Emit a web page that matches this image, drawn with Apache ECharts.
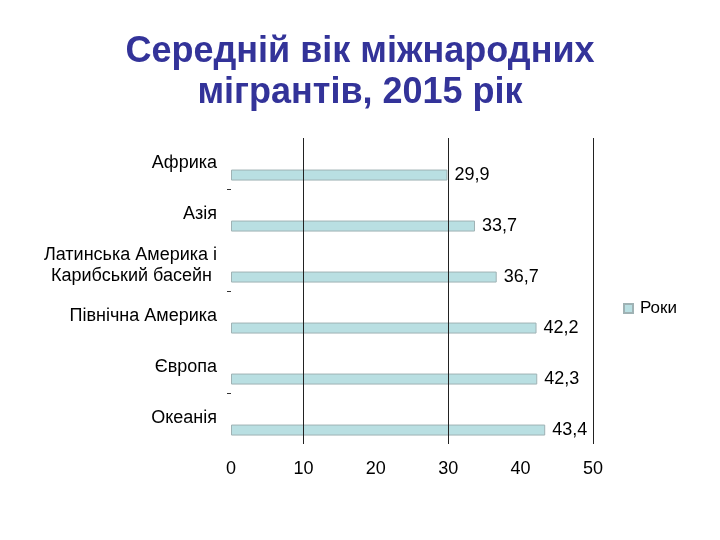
<!DOCTYPE html>
<html>
<head>
<meta charset="utf-8">
<script src="https://cdn.jsdelivr.net/npm/echarts@6/dist/echarts.min.js"></script>
<style>html,body{margin:0;padding:0;background:#fff}#c{width:720px;height:540px}</style>
</head>
<body>
<div id="c"></div>
<script>
var titleText = 'Середній вік міжнародних\nмігрантів, 2015 рік';
var categories = ['Африка', 'Азія', 'Латинська Америка і\nКарибський басейн ', 'Північна Америка', 'Європа', 'Океанія'];
var tickGroups = ['a', 'b', 'c'];
var seriesName = 'Роки';
var values = [29.9, 33.7, 36.7, 42.2, 42.3, 43.4];
var gridValues = [10, 30, 50];
var xTicks = [0, 10, 20, 30, 40, 50];

var chart = echarts.init(document.getElementById('c'), null, {renderer: 'canvas'});
var font = 'Liberation Sans, Arial, sans-serif';
chart.setOption({
  animation: false,
  title: {
    text: titleText, left: 'center', top: 27,
    textStyle: {fontFamily: font, fontSize: 36, fontWeight: 'bold', color: '#333399', lineHeight: 41}
  },
  legend: {
    data: [seriesName], left: 618, top: 295, icon: 'rect', itemWidth: 9, itemHeight: 9, itemGap: 4,
    textStyle: {fontFamily: font, fontSize: 17, color: '#000', padding: [0, 0, 0, 2]}
  },
  grid: {left: 231, right: 127, top: 138, bottom: 96, containLabel: false},
  xAxis: {
    type: 'value', min: xTicks[0], max: xTicks[xTicks.length - 1], interval: 10,
    axisLine: {show: false}, axisTick: {show: false}, splitLine: {show: false},
    axisLabel: {fontFamily: font, fontSize: 18, color: '#000', margin: 16}
  },
  yAxis: [{
    type: 'category', data: categories, inverse: true,
    axisLine: {show: false},
    axisTick: {show: false},
    axisLabel: {fontFamily: font, fontSize: 18, color: '#000', margin: 14, lineHeight: 21, align: 'right'}
  }, {
    type: 'category', data: tickGroups, inverse: true, position: 'left',
    axisLine: {show: false},
    axisTick: {show: true, alignWithLabel: true, length: 4, lineStyle: {color: '#333'}},
    axisLabel: {show: false}
  }],
  series: [
    {
      type: 'bar', name: 'hidden', data: values.map(function () { return '-'; }),
      barWidth: 11, barGap: '110%', silent: true
    },
    {
      type: 'bar', name: seriesName, data: values, barWidth: 11,
      itemStyle: {color: '#b9dfe2', borderColor: '#9fb2b4', borderWidth: 1},
      label: {show: true, position: 'right', distance: 7, fontFamily: font, fontSize: 18, color: '#000',
        formatter: function (p) { return String(p.value).replace('.', ','); }},
      markLine: {
        silent: true, symbol: 'none', label: {show: false},
        lineStyle: {color: '#222', width: 1, type: 'solid'},
        data: gridValues.map(function (v) { return {xAxis: v}; })
      }
    }
  ]
});
</script>
</body>
</html>
